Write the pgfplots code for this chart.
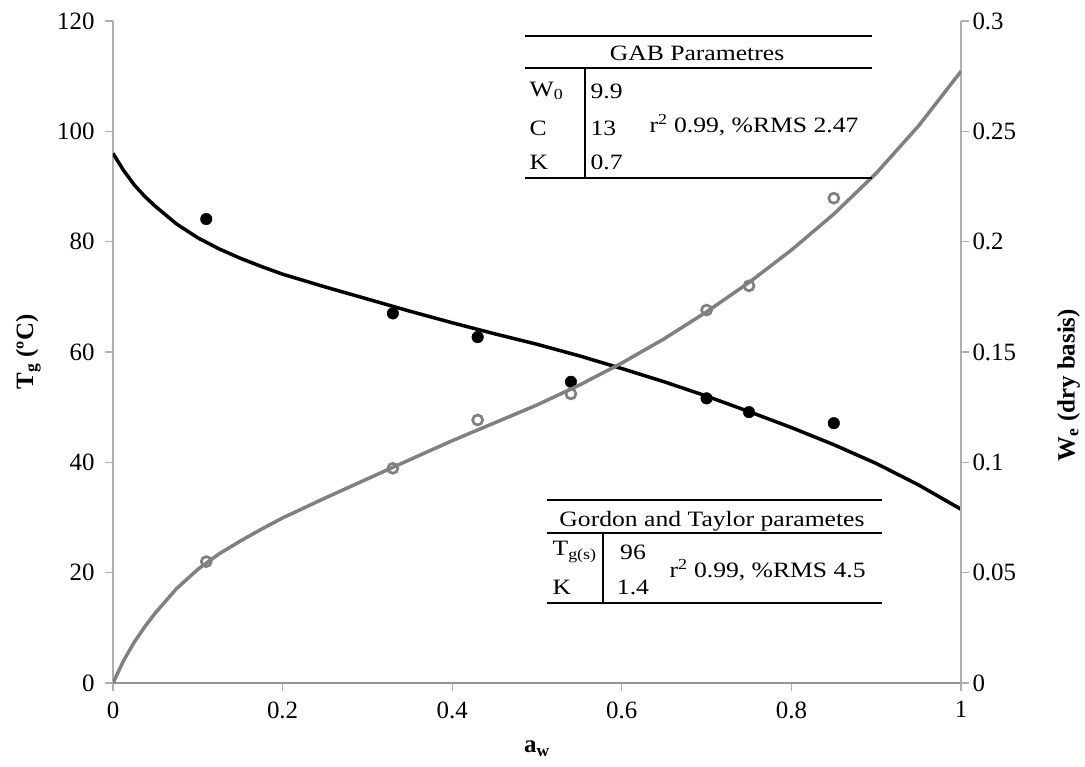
\documentclass[border=0pt]{standalone}
\usepackage{pgfplots}
\pgfplotsset{compat=1.18}
\usepackage{fontspec}
\setmainfont{Liberation Serif}
\newfontfamily\tabfont{Liberation Serif}[FakeStretch=1.17]
\definecolor{axgray}{RGB}{175,175,175}
\definecolor{sergray}{RGB}{128,128,128}

\begin{document}
\begin{tikzpicture}
\pgfplotsset{
  every axis/.append style={
    width=848bp, height=662bp, scale only axis,
    xmin=0, xmax=1,
    tick align=outside, major tick length=8bp,
    tick style={axgray, line width=1.2bp},
    axis line style={axgray, line width=1.6bp},
    tick label style={font=\fontsize{25}{29}\selectfont},
    label style={font=\fontsize{25}{29}\selectfont},
    /pgf/number format/assume math mode=true,
    scaled ticks=false,
  }
}
% left axis: glass transition
\begin{axis}[name=main,
  axis x line*=bottom, axis y line*=left,
  x axis line style={color=sergray!85, line width=2.6bp},
  ymin=0, ymax=120, ytick={0,20,40,60,80,100,120},
  xtick={0,0.2,0.4,0.6,0.8,1},
  xticklabel style={yshift=-7bp},
  yticklabel style={xshift=-7bp},
  xlabel={\textbf{a\textsubscript{w}}},
  xlabel style={at={(axis description cs:0.5,0)}, anchor=center, yshift=-66bp},
  ylabel={\textbf{T\textsubscript{g} (ºC)}},
  ylabel style={at={(axis description cs:-0.1,0.5)}, anchor=center},
]
\addplot[black, line width=3.5bp] table {
x y
0 96.0
0.0125 92.9
0.025 90.3
0.0375 88.2
0.05 86.4
0.075 83.2
0.1 80.7
0.125 78.7
0.15 77.0
0.175 75.5
0.2 74.1
0.25 71.8
0.3 69.6
0.35 67.4
0.4 65.3
0.45 63.3
0.5 61.4
0.55 59.3
0.6 57.0
0.65 54.6
0.7 52.0
0.75 49.2
0.8 46.3
0.85 43.2
0.9 39.8
0.95 35.9
1.0 31.5
};
\addplot[only marks, mark=*, mark size=5.8bp, black] coordinates {
(0.11,84.1) (0.33,67.0) (0.43,62.7) (0.54,54.6) (0.70,51.6) (0.75,49.1) (0.85,47.1)
};
\end{axis}
% right axis: moisture content
\begin{axis}[
  axis x line=none, axis y line*=right,
  ymin=0, ymax=0.3, ytick={0,0.05,0.1,0.15,0.2,0.25,0.3},
  yticklabel style={/pgf/number format/fixed, /pgf/number format/precision=2},
  ylabel={\textbf{W\textsubscript{e} (dry basis)}},
  ylabel style={at={(axis description cs:1.127,0.45)}, anchor=center},
]
\addplot[sergray, line width=3.5bp] table {
x y
0 0
0.0125 0.0101
0.025 0.0185
0.0375 0.0255
0.05 0.0318
0.075 0.0428
0.1 0.0515
0.125 0.0585
0.15 0.0643
0.175 0.0697
0.2 0.0748
0.25 0.0838
0.3 0.0925
0.35 0.1012
0.4 0.1098
0.45 0.1179
0.5 0.1260
0.55 0.1350
0.6 0.1450
0.65 0.1560
0.7 0.1682
0.75 0.1815
0.8 0.1962
0.85 0.2125
0.9 0.2310
0.95 0.2525
1.0 0.2772
};
\addplot[only marks, mark=o, mark size=5bp, sergray, line width=2.7bp] coordinates {
(0.11,0.055) (0.33,0.0973) (0.43,0.1192) (0.54,0.131) (0.70,0.169) (0.75,0.180) (0.85,0.2197)
};
\end{axis}
\coordinate (O) at ([xshift=-113bp, yshift=21bp]main.north west);
\begin{scope}[shift={(O)}, x=1bp, y=-1bp, line width=1.2bp,
  every node/.style={inner sep=0pt, font=\tabfont\fontsize{22}{26}\selectfont}]
  % GAB table
  \draw (525,36) -- (872,36);
  \draw (525,68) -- (872,68);
  \draw (525,178) -- (872,178);
  \draw (585,68) -- (585,178);
  \node at (697,53) {GAB Parametres};
  \node[anchor=west] at (529,91) {W\textsubscript{0}};
  \node[anchor=west] at (590,91) {9.9};
  \node[anchor=west] at (529,128) {C};
  \node[anchor=west] at (590,128) {13};
  \node[anchor=west] at (529,162) {K};
  \node[anchor=west] at (590,162) {0.7};
  \node[anchor=west] at (649,125) {r\textsuperscript{2} 0.99, \%RMS 2.47};
  % Gordon and Taylor table
  \draw (547,500) -- (882,500);
  \draw (547,533) -- (882,533);
  \draw (547,603) -- (882,603);
  \draw (603,533) -- (603,603);
  \node at (712,521) {Gordon and Taylor parametes};
  \node[anchor=west] at (552,552) {T\textsubscript{g(s)}};
  \node at (633,552) {96};
  \node[anchor=west] at (552,587) {K};
  \node at (633,587) {1.4};
  \node[anchor=west] at (669,570) {r\textsuperscript{2} 0.99, \%RMS 4.5};
\end{scope}
\pgfresetboundingbox
\path[shift={(O)}, x=1bp, y=-1bp] (0,0) rectangle (1085,767);
\end{tikzpicture}
\end{document}
